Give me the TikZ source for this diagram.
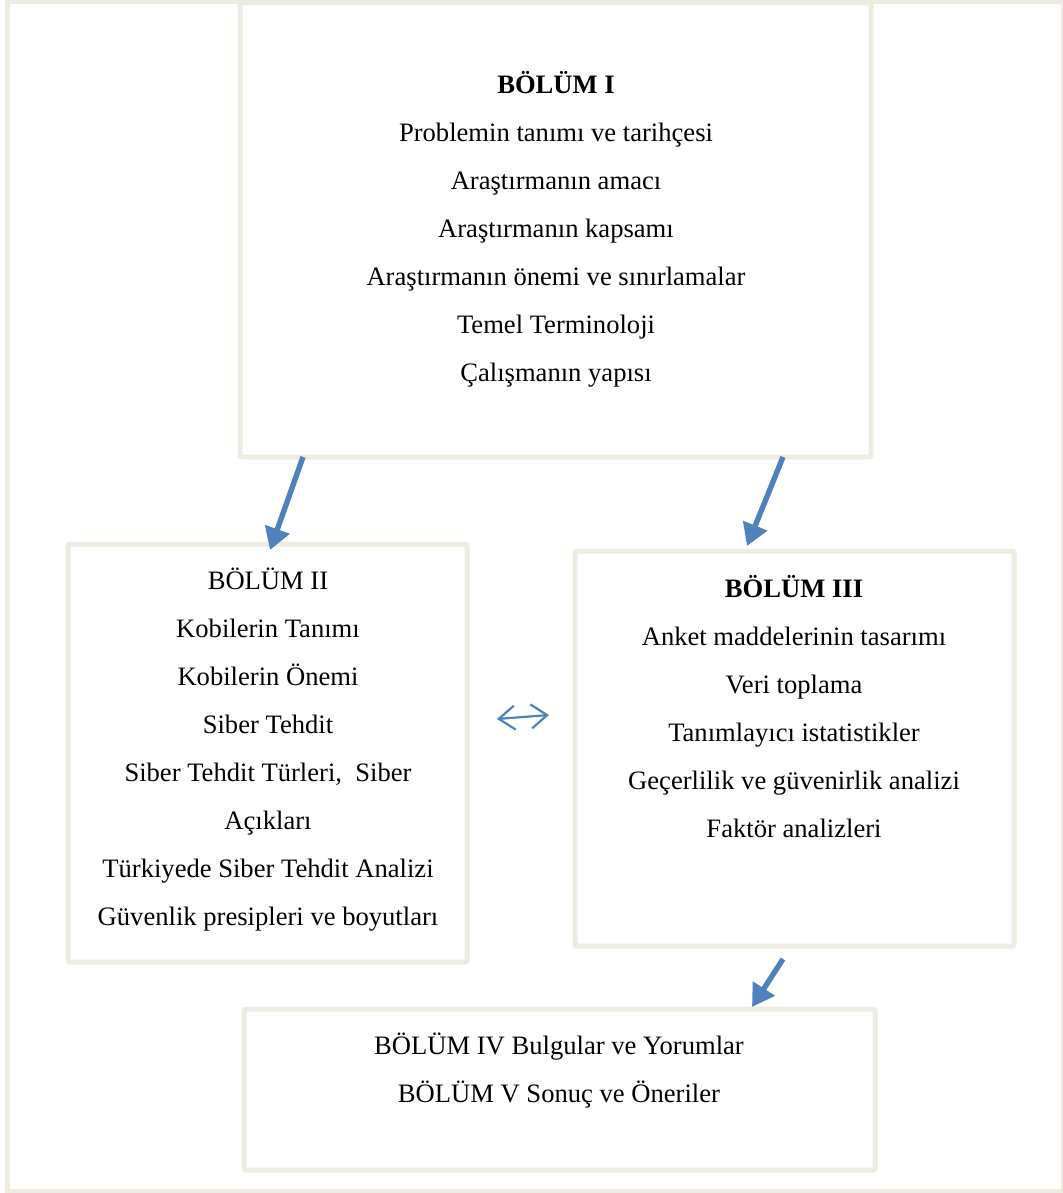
\documentclass[tikz,border=0pt]{standalone}
\usepackage{fontspec}
\setmainfont{Liberation Serif}
\usetikzlibrary{arrows.meta,calc}
\definecolor{framegray}{HTML}{EEECE1}
\definecolor{arrowblue}{HTML}{4F81BD}
\begin{document}
\begin{tikzpicture}[x=0.5pt,y=-0.5pt,
  box/.style={draw=framegray,line width=2.5pt,rounded corners=1pt,fill=white,outer sep=0pt},
  txt/.style={align=center,font=\fontsize{13.3}{24}\selectfont},
  flow/.style={draw=arrowblue,line width=2.7pt,-{Triangle[length=11pt,width=12.5pt]}},
  link/.style={draw=arrowblue,line width=1.1pt,{Straight Barb[length=8pt,width=12pt]}-{Straight Barb[length=8pt,width=12pt]}}]
\useasboundingbox (0,0) rectangle (1063,1193);
\draw[framegray,line width=2.5pt] (7,1.5) rectangle (1063,1191);

\node[box,minimum width=315.5pt,minimum height=227pt] (bolum1) at (555.5,230) {};
\node[box,minimum width=199.5pt,minimum height=209pt] (bolum2) at (267.5,753) {};
\node[box,minimum width=219.5pt,minimum height=197.5pt] (bolum3) at (794.5,748.5) {};
\node[box,minimum width=315.5pt,minimum height=80.5pt] (bolum45) at (559.5,1089.5) {};

\node[txt] (t1) at (556,229) {\textbf{BÖLÜM I}\\Problemin tanımı ve tarihçesi\\Araştırmanın amacı\\Araştırmanın kapsamı\\Araştırmanın önemi ve sınırlamalar\\Temel Terminoloji\\Çalışmanın yapısı};
\node[txt] (t2) at (268,750) {BÖLÜM II\\Kobilerin Tanımı\\Kobilerin Önemi\\Siber Tehdit\\Siber Tehdit Türleri,~ Siber\\Açıkları\\Türkiyede Siber Tehdit Analizi\\Güvenlik presipleri ve boyutları};
\node[txt] (t3) at (794,707) {\textbf{BÖLÜM III}\\Anket maddelerinin tasarımı\\Veri toplama\\Tanımlayıcı istatistikler\\Geçerlilik ve güvenirlik analizi\\Faktör analizleri};
\node[txt] (t4) at (559,1070.5) {BÖLÜM IV Bulgular ve Yorumlar\\BÖLÜM V Sonuç ve Öneriler};

\draw[flow] ($(bolum1.south west)+(63,0)$) -- ($(bolum2.north west)+(202,6)$);
\draw[flow] ($(bolum1.south west)+(543,0)$) -- ($(bolum3.north west)+(172,-5)$);
\draw[flow] ($(bolum3.south west)+(208,13)$) -- ($(bolum45.north west)+(508,-2)$);
\draw[link] ($(bolum2.east)+(30,-34)$) -- ($(bolum3.west)+(-26,-33.5)$);
\end{tikzpicture}
\end{document}
